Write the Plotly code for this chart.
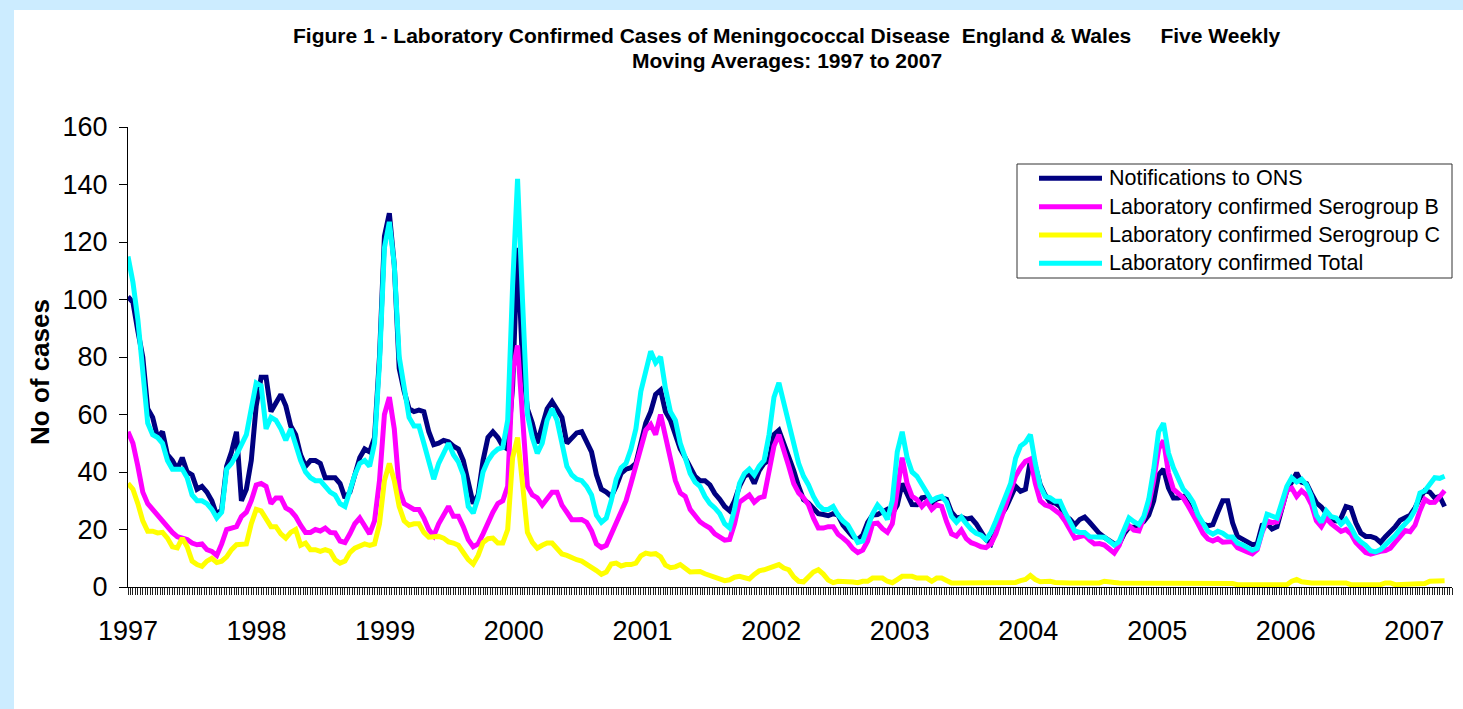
import pandas as pd
import plotly.graph_objects as go

# Five-weekly moving averages, sampled fortnightly from the first week of 1997
dates = pd.date_range("1997-01-01", periods=268, freq="14D")

notifications_ons = [
    101, 99, 89, 80, 62, 59, 52, 54, 46, 44, 41, 45, 40, 39, 34, 35, 33, 30, 25, 27,
    42, 47, 54, 30, 34, 44, 63, 73, 73, 61, 64, 67, 63, 56, 53, 46, 42, 44, 44, 43,
    38, 38, 38, 36, 31, 33,
    39.5, 45, 48, 47, 52, 80, 122, 130, 112, 76, 68, 62, 61, 61.5, 61, 54, 49.5, 50, 51, 50.5,
    49, 48, 44, 36, 29, 32, 44, 52, 54, 52, 49, 48, 70, 118, 78, 62, 57, 50, 56, 62,
    64.5, 61.5, 59, 50,
    52, 53.6, 54, 50, 47, 39, 34, 33, 31.5, 35, 39.5, 41, 41.5, 43, 50, 57, 61, 67, 68.5, 61,
    58, 53.5, 48, 45, 42, 38.5, 37, 37, 35.5, 32.5, 30.5, 28, 26.5, 30, 35, 38.5, 39.5, 36, 40.5, 43,
    44, 53, 54.5, 50, 45,
    40.5, 35, 30.4, 29.2, 27, 25.5, 25.2, 24.8, 25.5, 25, 21.5, 19.5, 17.5, 16.5, 18, 22.5, 25, 25.2, 26, 27,
    25.5, 28.5, 36, 32, 28.7, 28.6, 31, 31.3, 29, 30.6, 31, 30.5, 26, 24, 24.3, 23.6, 24, 22, 19.5, 16.5,
    15, 19.5, 24.8, 27.5,
    31.5, 35, 33.3, 34, 44, 42, 35.5, 32, 29.5, 29.2, 28, 24.8, 23.6, 21.6, 23.5, 24.3, 22.5, 20.4, 18.6, 17.3,
    16.3, 15, 15, 18.5, 20.8, 20.8, 21.5, 22.8, 25, 30, 39, 41, 34.5, 31, 31, 31.5, 29, 26, 24, 22,
    21.3, 21.7, 26, 30, 30,
    22.3, 17.6, 16.5, 15.3, 14.7, 15, 21.5, 22, 20.2, 21, 27, 33.5, 36.5, 39.7, 36.5, 36, 32.5, 29.3, 27.8, 25.3,
    23.4, 23, 24, 28, 27.5, 22.3, 18.8, 17.6, 17.6, 17, 15.5, 17.5, 19, 21, 23.2, 24, 25, 27.5, 31, 33.5,
    33, 31, 31.5, 28,
]

serogroup_b = [
    54, 50, 42, 33, 29, 27, 25, 22.5, 21, 19, 17.5, 17, 16.5, 15.3, 14.7, 15, 13, 12.4, 11, 15,
    20, 20.5, 21, 24.5, 26, 30, 35.5, 36, 35, 29, 31, 31, 27.5, 26.5, 24.5, 21.5, 19, 19, 20, 19.5,
    20.5, 19, 18.8, 16, 15.5, 18.5,
    22, 24, 21.5, 18.5, 23, 37, 60, 66, 55, 34, 29, 28, 27, 27, 24, 20, 17.8, 22, 25, 28,
    24.6, 24.6, 21, 16.5, 14, 15, 18.5, 22.5, 26, 29, 30, 35, 75, 84, 57, 35, 32, 31, 28.5, 30.5,
    33, 33, 28.5, 26,
    23.4, 23.4, 23.5, 22.5, 19.5, 15, 13.7, 14.5, 18.5, 23, 27, 30, 36, 42, 49.5, 54.5, 56.5, 53, 60, 52,
    43, 37, 32.7, 31.5, 27, 24.5, 22.7, 21.5, 20.5, 18.5, 17.3, 16.3, 16.5, 22, 29.5, 31, 32, 29.5, 31, 31.5,
    40, 49, 53, 48, 42,
    36, 32.7, 31, 28.6, 24, 20.5, 20.5, 21, 21, 18.3, 17, 15.5, 13.3, 12, 12.8, 16, 22, 22.2, 20.3, 19,
    22, 33, 45, 36, 31.5, 30.4, 28, 29.8, 27, 28.6, 28, 22.7, 18.5, 17.7, 19.8, 16.8, 15.4, 14.8, 14, 13.7,
    15, 18.5, 23.5, 28,
    32.7, 38.5, 41.5, 43.7, 44.5, 36, 30, 28.5, 28, 26.5, 25.4, 23, 19.6, 17, 17.5, 18, 16.3, 15, 15.1, 14.6,
    13.2, 11.8, 14.5, 19.5, 21.3, 19.8, 19.5, 23.5, 28.5, 37, 48, 51, 39.7, 34, 32.7, 31, 28.2, 25.4, 22, 18.7,
    16.7, 16, 16.8, 15.6, 15.5,
    15.8, 13.7, 12.8, 12.2, 11.5, 13, 19, 23, 22.4, 22.7, 27.5, 33.5, 34.4, 31.5, 33.5, 32, 28.7, 23, 21, 24,
    22, 20.6, 19.3, 20, 18.5, 15.5, 13.6, 12, 11.4, 12.1, 12.4, 12.7, 13.5, 15.6, 17.6, 19.6, 19.2, 21.5, 26.5, 30.5,
    29.4, 29.5, 31.4, 33.5,
]

serogroup_c = [
    36, 34, 29, 23, 19.4, 19.4, 18.8, 19, 17, 14, 13.6, 17, 14, 9, 7.8, 7.2, 9, 10, 8.5, 9,
    10.5, 13, 14.7, 14.7, 15, 22, 27, 26.5, 24, 21, 21, 18.5, 17, 19, 20, 14.5, 15.3, 13, 13, 12.4,
    13, 12.4, 9.5, 8.3, 9, 12,
    13.5, 14.3, 15, 14.5, 15, 22, 37, 43, 37, 28, 23, 21.5, 22, 22, 19, 17.3, 17.3, 17.6, 17, 15.7,
    15.3, 14.5, 12, 9.5, 8, 11, 15.5, 16.8, 17, 15.3, 15.3, 20, 45, 52, 36, 19, 15.5, 13.5, 14.5, 15.3,
    15.3, 13.5, 11.5, 11,
    10, 9.5, 9, 8, 7, 5.7, 4.4, 5.2, 8, 8.3, 7.3, 7.8, 7.8, 8.3, 10.8, 11.8, 11.4, 11.6, 10.5, 7.6,
    6.7, 7, 7.8, 6.5, 5.2, 5.3, 5.4, 4.6, 3.9, 3.3, 2.7, 2.2, 2.5, 3.4, 3.7, 3.2, 2.8, 4.4, 5.6, 6,
    6.6, 7.5, 7.8, 6.6, 6,
    3.5, 2, 1.8, 3.8, 5.2, 6, 4.5, 2.4, 1.5, 2, 2, 2, 1.7, 1.5, 2, 2, 3.1, 3.1, 3.1, 2,
    1.5, 2.6, 3.7, 3.7, 3.7, 3.1, 3.1, 3.1, 2, 3.1, 3.1, 2, 1.4, 1.4, 1.4, 1.4, 1.4, 1.4, 1.4, 1.4,
    1.4, 1.4, 1.4, 1.4,
    1.4, 1.6, 2.2, 2.6, 4, 2.6, 1.8, 2, 2, 1.6, 1.4, 1.4, 1.4, 1.4, 1.4, 1.4, 1.4, 1.4, 1.4, 2,
    2, 1.6, 1.4, 1.4, 1.2, 1.2, 1.2, 1.2, 1.2, 1.2, 1.2, 1.2, 1.2, 1.2, 1.2, 1.2, 1.2, 1.2, 1.2, 1.2,
    1.2, 1.2, 1.4, 1.4, 1.4,
    1.2, 0.8, 0.8, 0.8, 0.8, 0.8, 0.8, 0.8, 0.8, 0.8, 0.8, 0.8, 2, 2.6, 1.8, 1.4, 1.4, 1.4, 1.4, 1.4,
    1.4, 1.4, 1.4, 1.4, 0.8, 0.8, 0.8, 0.8, 0.8, 0.8, 0.8, 1.4, 1.4, 0.8, 0.8, 0.8, 0.8, 0.8, 0.8, 1.2,
    2, 2, 2.2, 2.2,
]

lab_total = [
    115, 106, 93, 74, 57, 53, 52, 50, 44, 41, 41, 41, 38, 32, 30, 30, 29, 27, 24, 26,
    41, 43, 46, 50, 53, 62, 71, 70, 55, 59, 58, 55, 51, 55, 49, 44, 40, 38, 37, 37,
    35, 33, 32, 29, 28, 34,
    39, 43, 44, 42, 50, 78, 118, 127, 112, 80, 68, 59, 56, 56, 50, 43, 37.5, 43, 47, 50,
    46, 43.5, 39, 28, 25.7, 31, 40, 44, 46.5, 48, 48.5, 58, 105, 142, 100, 60, 52, 46.5, 50, 58,
    62, 58, 50, 42,
    39, 37.5, 37, 35, 32, 25, 22.5, 24, 30, 37.5, 41.5, 43, 48, 55, 68, 75, 82, 78, 80, 69,
    61, 58, 50, 45, 39.5, 36.5, 35, 31.5, 29, 27.5, 25.5, 22, 20.5, 27, 36, 39.5, 41, 39, 42, 44,
    53, 66, 71, 64, 57,
    49, 43, 38.5, 35.5, 31.5, 28.5, 27, 27, 28, 25, 23, 21.5, 18.5, 15.5, 16, 20.5, 25.5, 28.5, 26.5, 23.5,
    30, 47, 54, 45, 40, 38.5, 35.5, 33, 30, 31, 31.5, 29.5, 24.5, 22.5, 24.3, 22, 20, 18.7, 18, 16.5,
    19, 23, 27.5, 32,
    36, 44.8, 49, 50.3, 53, 43, 35, 31.5, 31, 29.8, 29.8, 26, 22.5, 19.5, 19, 19, 17.5, 17.5, 17.6, 17.3,
    16, 14.6, 15.8, 20.5, 24, 22.7, 21.7, 24.5, 30.5, 40.8, 54, 57, 46.6, 41.5, 37.5, 34, 32.2, 29.5, 25, 22,
    19.4, 18.4, 19.4, 18.7, 17.5,
    17.4, 15.3, 14.7, 13.8, 12.8, 13.5, 20, 25.3, 24.7, 24, 29.5, 35, 38, 36.5, 37.5, 35.5, 31.5, 25, 22.5, 26.5,
    24.5, 24, 21.8, 23.5, 20.8, 17.5, 15.7, 14.5, 12.6, 12.2, 13, 14.7, 16, 18, 20.2, 21.9, 23.8, 26.8, 32.7, 33.5,
    35.5, 38, 37.8, 38.5,
]

series_names = [
    "Notifications to ONS",
    "Laboratory confirmed Serogroup B",
    "Laboratory confirmed Serogroup C",
    "Laboratory confirmed Total",
]
series_values = [notifications_ons, serogroup_b, serogroup_c, lab_total]
series_colors = ["#000080", "#FF00FF", "#FFFF00", "#00FFFF"]

year_ticks = [f"{y}-01-01" for y in range(1997, 2008)]
year_labels = [str(y) for y in range(1997, 2008)]

FONT = "Liberation Sans, Arial, Helvetica, sans-serif"
W, H = 1463, 709
L, R, T, B = 128, 11, 127, 122
PW, PH = W - L - R, H - T - B


def px_x(px):
    return (px - L) / PW


def px_y(py):
    return (H - B - py) / PH


fig = go.Figure()
for name, vals, col in zip(series_names, series_values, series_colors):
    fig.add_trace(go.Scatter(
        x=dates, y=vals, name=name, mode="lines",
        line=dict(color=col, width=5),
    ))

fig.update_layout(
    width=W, height=H,
    margin=dict(l=L, r=R, t=T, b=B, pad=0),
    paper_bgcolor="white", plot_bgcolor="white",
    showlegend=False,
    font=dict(family=FONT, color="black"),
)

fig.update_xaxes(
    type="date",
    range=["1997-01-01", "2007-04-18"],
    tickmode="array", tickvals=year_ticks, ticktext=year_labels,
    ticks="", tickfont=dict(size=27, family=FONT, color="black"),
    ticklabelstandoff=20,
    showline=True, linecolor="black", linewidth=1,
    showgrid=False, zeroline=False,
    minor=dict(dtick=7 * 86400000, tick0="1997-01-01", ticks="outside",
               ticklen=7, tickcolor="#222222", tickwidth=1, showgrid=False),
)

fig.update_yaxes(
    range=[0, 160], tick0=0, dtick=20,
    ticks="outside", ticklen=8, tickcolor="black", tickwidth=1,
    tickfont=dict(size=27, family=FONT, color="black"),
    ticklabelstandoff=6,
    showline=True, linecolor="black", linewidth=1,
    showgrid=False, zeroline=False,
)

shapes = [
    # pale blue frame strips
    dict(type="rect", xref="paper", yref="paper", layer="below",
         x0=px_x(0), x1=px_x(W), y0=px_y(10), y1=px_y(0),
         fillcolor="#CCECFF", line=dict(width=0)),
    dict(type="rect", xref="paper", yref="paper", layer="below",
         x0=px_x(0), x1=px_x(14), y0=px_y(H), y1=px_y(0),
         fillcolor="#CCECFF", line=dict(width=0)),
    # legend box
    dict(type="rect", xref="paper", yref="paper",
         x0=px_x(1017), x1=px_x(1452), y0=px_y(278), y1=px_y(164),
         fillcolor="white", line=dict(color="#333333", width=1)),
]

annotations = [
    dict(text="<b>Figure 1 - Laboratory Confirmed Cases of Meningococcal Disease\u00a0\u00a0England &amp; Wales\u00a0\u00a0\u00a0\u00a0\u00a0Five Weekly</b>",
         xref="paper", yref="paper", x=px_x(787), y=px_y(35),
         xanchor="center", yanchor="middle", showarrow=False,
         font=dict(size=21, family=FONT, color="black")),
    dict(text="<b>Moving Averages: 1997 to 2007</b>",
         xref="paper", yref="paper", x=px_x(787), y=px_y(61),
         xanchor="center", yanchor="middle", showarrow=False,
         font=dict(size=21, family=FONT, color="black")),
    dict(text="<b>No of cases</b>", textangle=-90,
         xref="paper", yref="paper", x=px_x(40), y=px_y(372),
         xanchor="center", yanchor="middle", showarrow=False,
         font=dict(size=26, family=FONT, color="black")),
]

row_y = [178.3, 206.7, 235, 263.3]
for name, col, ry in zip(series_names, series_colors, row_y):
    shapes.append(dict(type="line", xref="paper", yref="paper",
                       x0=px_x(1039), x1=px_x(1102), y0=px_y(ry), y1=px_y(ry),
                       line=dict(color=col, width=5)))
    annotations.append(dict(text=name, xref="paper", yref="paper",
                            x=px_x(1107), y=px_y(ry), xanchor="left", yanchor="middle",
                            showarrow=False,
                            font=dict(size=21.5, family=FONT, color="black")))

fig.update_layout(shapes=shapes, annotations=annotations)

fig.write_html("out.html")
